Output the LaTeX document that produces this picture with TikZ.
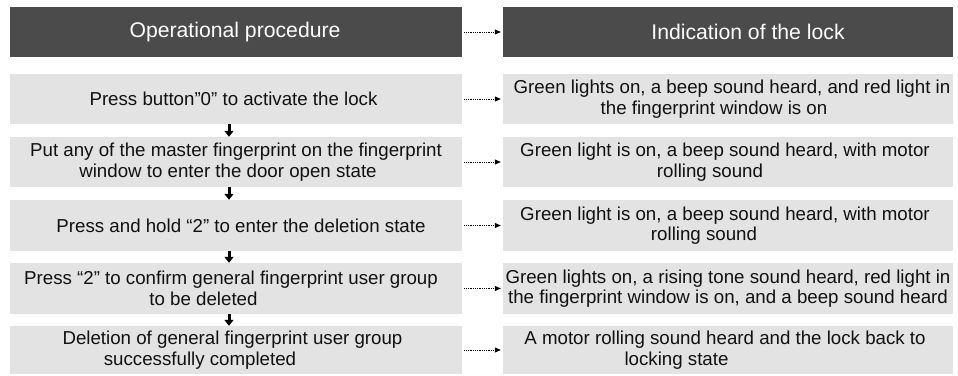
\documentclass[tikz,border=0pt]{standalone}
\usepackage{fontspec}
\setmainfont{Liberation Sans}
\usetikzlibrary{arrows.meta}
\definecolor{hdr}{HTML}{4B4B4B}
\definecolor{rowc}{HTML}{E3E3E3}
\definecolor{txt}{HTML}{111111}
\newcommand{\padw}[1]{\rule{#1pt}{0pt}}
\begin{document}
\begin{tikzpicture}[x=1pt,y=-1pt,
  lbox/.style={rectangle,fill=rowc,minimum width=452pt,minimum height=50pt,inner sep=0pt,align=center,text=txt,font=\fontsize{18.7}{20.5}\selectfont},
  rbox/.style={lbox,minimum width=450pt},
  hbox/.style={rectangle,fill=hdr,minimum height=50pt,inner sep=0pt,text=white,font=\fontsize{21.2}{24}\selectfont},
  dotarr/.style={densely dotted,line width=0.8pt,-{Triangle[length=6pt,width=5pt]},shorten <=2pt,shorten >=2pt},
  downarr/.style={line width=3pt,-{Triangle[length=6pt,width=9pt]}}]
\useasboundingbox (0,0) rectangle (958,375);
% headers
\node[hbox,minimum width=452pt] (h1) at (236,32) {Operational procedure\padw{2}};
\node[hbox,minimum width=450pt] (h2) at (728,32) {\padw{40}Indication of the lock};
% left column
\node[lbox] (l1) at (236,99) {Press button”0” to activate the lock\padw{5}};
\node[lbox] (l2) at (236,162) {Put any of the master fingerprint on the fingerprint\\window to enter the door open state\padw{16}};
\node[lbox,minimum height=51pt] (l3) at (236,225.5) {\padw{10}Press and hold “2” to enter the deletion state};
\node[lbox,minimum height=51pt] (l4) at (236,288.5) {Press “2” to confirm general fingerprint user group\padw{10}\\to be deleted\padw{65}};
\node[lbox,minimum height=48pt] (l5) at (236,350) {Deletion of general fingerprint user group\padw{7}\\successfully completed\padw{72}};
% right column
\node[rbox] (r1) at (728,99) {\padw{8}Green lights on, a beep sound heard, and red light in\\the fingerprint window is on\padw{28}};
\node[rbox] (r2) at (728,162) {Green light is on, a beep sound heard, with motor\padw{6}\\rolling sound\padw{36}};
\node[rbox,minimum height=51pt] (r3) at (728,225.5) {Green light is on, a beep sound heard, with motor\padw{6}\\rolling sound\padw{48}};
\node[rbox,minimum height=51pt] (r4) at (728,288.5) {Green lights on, a rising tone sound heard, red light in\\the fingerprint window is on, and a beep sound heard};
\node[rbox,minimum height=48pt] (r5) at (728,350) {A motor rolling sound heard and the lock back to\padw{6}\\locking state\padw{103}};
% horizontal dotted arrows
\draw[dotarr] (h1.east) -- (h2.west);
\draw[dotarr] (l1.east) -- (r1.west);
\draw[dotarr] (l2.east) -- (r2.west);
\draw[dotarr] (l3.east) -- (r3.west);
\draw[dotarr] (l4.east) -- (r4.west);
\draw[dotarr] (l5.east) -- (r5.west);
% vertical arrows
\draw[downarr] ([xshift=-7pt]l1.south) -- ([xshift=-7pt]l2.north);
\draw[downarr] ([xshift=-7pt]l2.south) -- ([xshift=-7pt]l3.north);
\draw[downarr] ([xshift=-7pt]l3.south) -- ([xshift=-7pt]l4.north);
\draw[downarr] ([xshift=-7pt]l4.south) -- ([xshift=-7pt]l5.north);
\end{tikzpicture}
\end{document}
